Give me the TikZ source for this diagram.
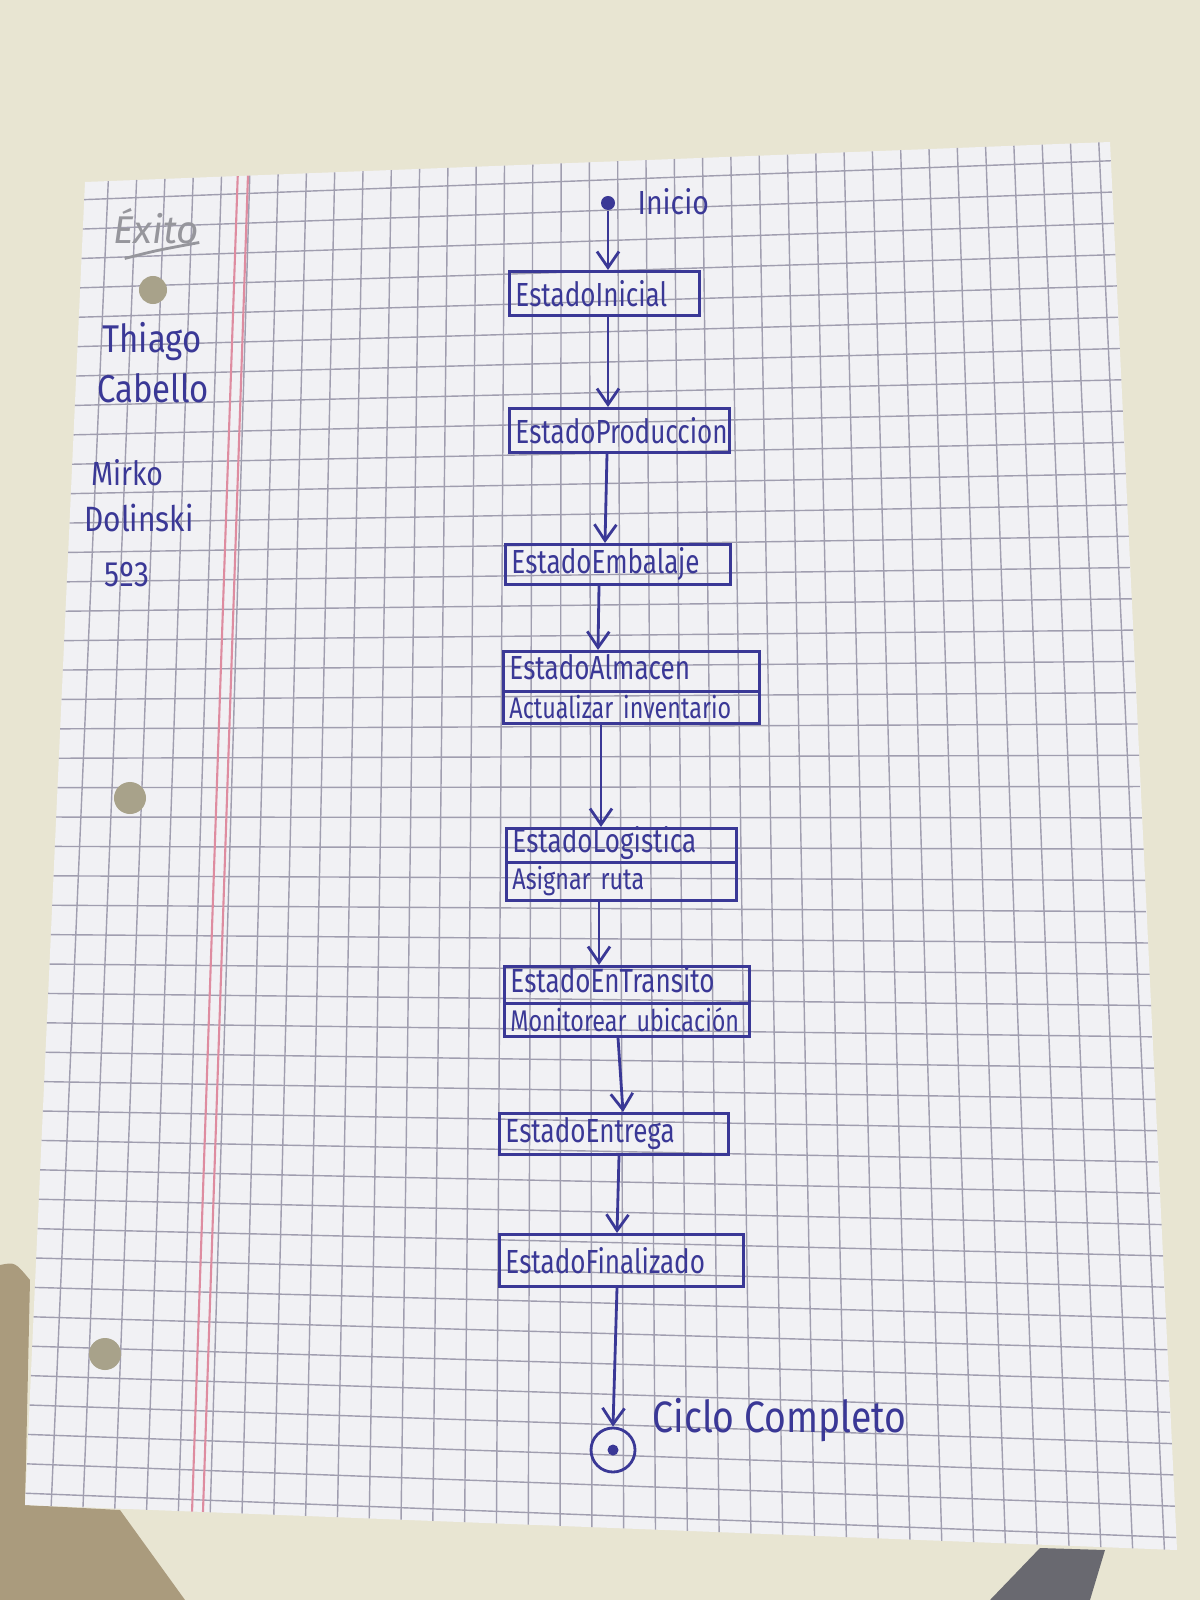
\documentclass[tikz,border=0pt]{standalone}
\usepackage{fontspec}
\setmainfont{Fira Sans}
\newfontfamily\handfont{Fira Sans}[FakeStretch=0.85]
\newfontfamily\boxfont{Fira Sans}[FakeStretch=0.78]
\usetikzlibrary{arrows.meta,calc,shapes.multipart}
\definecolor{ink}{RGB}{58,56,150}
\definecolor{bgc}{RGB}{232,229,210}
\definecolor{paperc}{RGB}{241,241,244}
\definecolor{gridc}{RGB}{160,158,175}
\definecolor{redm}{RGB}{222,140,160}
\definecolor{holec}{RGB}{168,162,138}
\definecolor{logoc}{RGB}{150,150,156}
\definecolor{tablec}{RGB}{170,155,125}
\definecolor{fabricc}{RGB}{105,105,112}
\tikzset{
  box/.style={draw=ink, line width=0.8pt, anchor=north west, align=left, text=ink,
    font=\boxfont\fontsize{9.5}{10}\selectfont, inner xsep=0.6mm, inner ysep=0.3mm,
    minimum height=4.4mm},
  splitbox/.style={box, rectangle split, rectangle split parts=2, minimum height=0pt,
    text height=2.4mm, text depth=0.7mm},
  small/.style={font=\boxfont\fontsize{8.5}{9}\selectfont},
  arr/.style={draw=ink, line width=0.8pt, -{Straight Barb[length=1.6mm,width=2.2mm,line width=0.8pt]}},
  hand/.style={text=ink, font=\handfont\fontsize{11}{12}\selectfont, inner sep=0pt},
}
\begin{document}
\begin{tikzpicture}[x=0.01cm,y=-0.01cm]
\useasboundingbox (0,0) rectangle (1200,1600);
\fill[bgc] (0,0) rectangle (1200,1600);
\fill[tablec] (0,1265) .. controls (15,1262) .. (30,1280) -- (25,1505) -- (120,1510) -- (185,1600) -- (0,1600) -- cycle;
\fill[fabricc] (1040,1548) -- (1105,1550) -- (1090,1600) -- (990,1600) -- cycle;
% paper
\coordinate (TL) at (85,182);
\coordinate (TR) at (1110,142);
\coordinate (BR) at (1177,1550);
\coordinate (BL) at (25,1505);
\fill[paperc] (TL) -- (TR) -- (BR) -- (BL) -- cycle;
\begin{scope}
\clip (TL) -- (TR) -- (BR) -- (BL) -- cycle;
\foreach \i in {1,...,36}
  \draw[gridc, line width=0.4pt] ($(TL)!{(\i*28.3-5)/1025}!(TR)$) -- ($(BL)!{(\i*28.3-5)/1025}!(BR)$);
\foreach \j in {1,...,45}
  \draw[gridc, line width=0.4pt] ($(TL)!{(\j-0.4)/45}!(BL)$) -- ($(TR)!{(\j-0.4)/45}!(BR)$);
\draw[redm, line width=0.6pt] ($(TL)!0.149!(TR)$) -- ($(BL)!0.145!(BR)$);
\draw[redm, line width=0.6pt] ($(TL)!0.159!(TR)$) -- ($(BL)!0.1545!(BR)$);
\end{scope}
\fill[holec] (153,290) circle (1.4mm);
\fill[holec] (130,798) circle (1.6mm);
\fill[holec] (105,1354) circle (1.6mm);
% side texts
\node[text=logoc, font=\itshape\fontsize{11}{12}\selectfont, inner sep=0pt] (logo) at (156,226) {Éxito};
\draw[logoc, line width=0.8pt] ($(logo.south west)+(12,14)$) .. controls ($(logo.south)+(0,6)$) .. ($(logo.south east)+(0,-2)$);
\node[hand] (n1) at (152,342) {Thiago};
\node[hand] (n2) at (153,388) {Cabello};
\node[hand, font=\handfont\fontsize{9.5}{10}\selectfont] (n3) at (127,473) {Mirko};
\node[hand, font=\handfont\fontsize{10}{11}\selectfont] (n4) at (139,518) {Dolinski};
\node[hand, font=\handfont\fontsize{10}{11}\selectfont] (n5) at (127,575) {5º3};
% diagram
\node[circle, fill=ink, inner sep=0pt, minimum size=1.4mm] (ini) at (608,203) {};
\node[hand, anchor=west, font=\handfont\fontsize{9.5}{10}\selectfont] (lini) at (637,202) {Inicio};
\node[box, text width=17.8mm] (s1) at (508,270) {EstadoInicial};
\node[box, text width=20.8mm] (s2) at (508,407) {EstadoProduccion};
\node[box, text width=21.3mm, minimum height=4.0mm] (s3) at (504,543) {EstadoEmbalaje};
\node[splitbox, text width=24.4mm] (s4) at (502,650) {EstadoAlmacen\nodepart[small]{two}\mbox{Actualizar inventario}};
\node[splitbox, text width=21.8mm, text height=2.0mm, text depth=0.5mm] (s5) at (505,827) {EstadoLogistica\nodepart[small]{two}\mbox{Asignar ruta}};
\node[splitbox, text width=23.3mm, text height=2.2mm, text depth=0.6mm] (s6) at (503,965) {EstadoEnTransito\nodepart[small]{two}\mbox{Monitorear ubicación}};
\node[box, text width=21.7mm, minimum height=4.1mm] (s7) at (498,1112) {EstadoEntrega};
\node[box, text width=23.2mm, minimum height=5.2mm] (s8) at (498,1233) {EstadoFinalizado};
\node[circle, draw=ink, line width=0.8pt, minimum size=4.4mm, inner sep=0pt,
  path picture={\fill[ink] (path picture bounding box.center) circle (0.55mm);}] (endn) at (613,1450) {};
\node[hand, anchor=west, font=\handfont\fontsize{12.5}{13}\selectfont] (lend) at (652,1420) {Ciclo Completo};
% connectors
\draw[arr] (ini) -- (s1.north -| ini);
\draw[arr] ($(s1.south west)+(100,0)$) -- ($(s2.north west)+(100,0)$);
\draw[arr] ($(s2.south west)+(99,0)$) -- ($(s3.north west)+(101,0)$);
\draw[arr] ($(s3.south west)+(95,0)$) -- ($(s4.north west)+(96,0)$);
\draw[arr] ($(s4.south west)+(99,0)$) -- ($(s5.north west)+(96,0)$);
\draw[arr] ($(s5.south west)+(94,0)$) -- ($(s6.north west)+(96,0)$);
\draw[arr] ($(s6.south west)+(115,0)$) -- ($(s7.north west)+(125,0)$);
\draw[arr] ($(s7.south west)+(121,0)$) -- ($(s8.north west)+(119,0)$);
\draw[arr] ($(s8.south west)+(119,0)$) -- (endn.north);
\end{tikzpicture}
\end{document}
